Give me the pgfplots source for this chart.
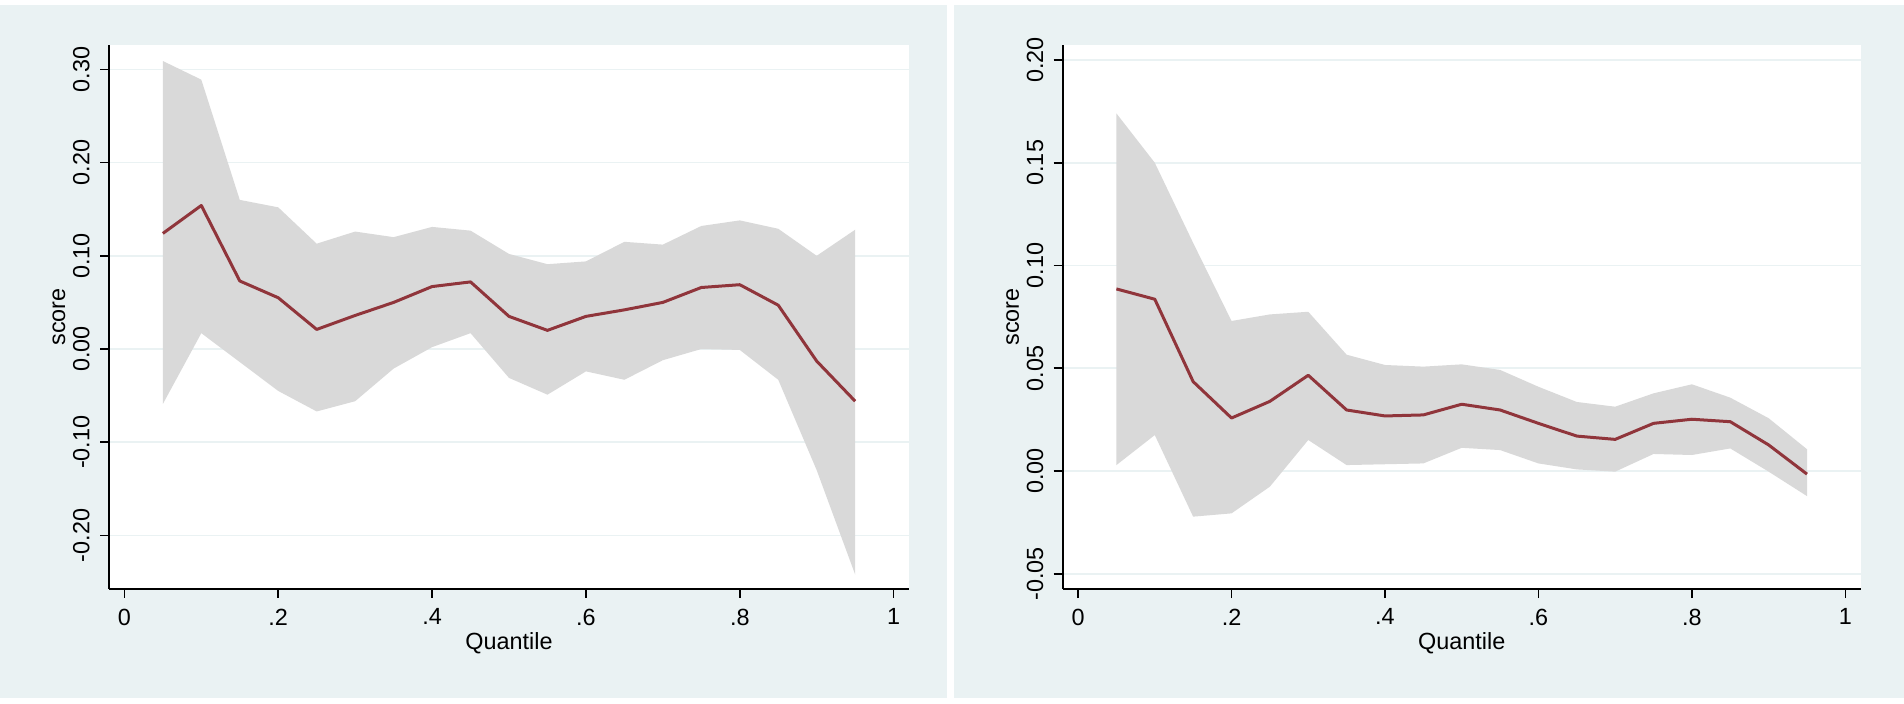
\documentclass[border=0pt]{standalone}
\usepackage{fontspec}
\setmainfont{Liberation Sans}
\usepackage{pgfplots}
\usepackage{pgfplotstable}
\pgfplotsset{compat=1.18}
\definecolor{bgcol}{RGB}{234,242,243}
\definecolor{gridcol}{RGB}{234,242,243}
\definecolor{bandcol}{RGB}{217,217,217}
\definecolor{linecol}{RGB}{144,53,59}

\pgfplotsset{
  layers/withbg/.define layer set={
    panelbg,axis background,axis grid,axis ticks,axis lines,axis tick labels,pre main,main,axis descriptions,axis foreground
  }{},
  set layers=withbg,
}

% point estimates
\pgfplotstableread{
q    est
0.05 0.124
0.10 0.154
0.15 0.073
0.20 0.055
0.25 0.021
0.30 0.036
0.35 0.050
0.40 0.067
0.45 0.072
0.50 0.035
0.55 0.020
0.60 0.035
0.65 0.042
0.70 0.050
0.75 0.066
0.80 0.069
0.85 0.047
0.90 -0.013
0.95 -0.056
}\leftest

% confidence band: upper bound forward, then lower bound backward
\pgfplotstableread{
q    b
0.05 0.309
0.10 0.289
0.15 0.160
0.20 0.152
0.25 0.113
0.30 0.126
0.35 0.120
0.40 0.131
0.45 0.127
0.50 0.102
0.55 0.091
0.60 0.094
0.65 0.115
0.70 0.112
0.75 0.132
0.80 0.138
0.85 0.129
0.90 0.100
0.95 0.128
0.95 -0.242
0.90 -0.130
0.85 -0.033
0.80 -0.001
0.75 0.000
0.70 -0.012
0.65 -0.033
0.60 -0.024
0.55 -0.049
0.50 -0.031
0.45 0.017
0.40 0.002
0.35 -0.021
0.30 -0.056
0.25 -0.067
0.20 -0.045
0.15 -0.014
0.10 0.017
0.05 -0.059
}\leftband

\pgfplotstableread{
q    est
0.05 0.0886
0.10 0.0836
0.15 0.0435
0.20 0.0258
0.25 0.0339
0.30 0.0466
0.35 0.0297
0.40 0.0268
0.45 0.0273
0.50 0.0325
0.55 0.0297
0.60 0.0232
0.65 0.0170
0.70 0.0154
0.75 0.0232
0.80 0.0252
0.85 0.0240
0.90 0.0127
0.95 -0.0015
}\rightest

\pgfplotstableread{
q    b
0.05 0.1740
0.10 0.1500
0.15 0.1110
0.20 0.0730
0.25 0.0762
0.30 0.0775
0.35 0.0566
0.40 0.0516
0.45 0.0508
0.50 0.0519
0.55 0.0492
0.60 0.0410
0.65 0.0336
0.70 0.0313
0.75 0.0378
0.80 0.0422
0.85 0.0357
0.90 0.0257
0.95 0.0106
0.95 -0.0122
0.90 -0.0003
0.85 0.0110
0.80 0.0078
0.75 0.0083
0.70 -0.0003
0.65 0.0008
0.60 0.0037
0.55 0.0102
0.50 0.0113
0.45 0.0037
0.40 0.0033
0.35 0.0029
0.30 0.0151
0.25 -0.0076
0.20 -0.0206
0.15 -0.0222
0.10 0.0175
0.05 0.0029
}\rightband

\pgfplotsset{
  statastyle/.style={
    scale only axis,
    width=400bp, height=272bp,
    axis background/.style={fill=white},
    axis lines=left,
    axis line style={-, black, line width=1bp},
    tick align=outside,
    major tick length=4.5bp,
    tick style={black, line width=0.8bp},
    ymajorgrids,
    major grid style={gridcol, line width=0.8bp},
    font=\fontsize{11.7bp}{14bp}\selectfont,
    xtick={0,0.2,0.4,0.6,0.8,1},
    xticklabels={0,.2,.4,.6,.8,1},
    xmin=-0.02, xmax=1.02,
    yticklabel style={rotate=90, anchor=south, inner xsep=0pt, inner ysep=4.95bp},
    xticklabel style={anchor=north, inner xsep=0pt, inner ysep=5.15bp},
    xlabel={Quantile},
    ylabel={score},
    xlabel style={at={(axis description cs:0.5,-0.1121)}, anchor=base},
    ylabel style={at={(axis description cs:-0.055,0.5)}, anchor=base, rotate=0},
  }
}

\begin{document}
\begin{tikzpicture}
\begin{pgfonlayer}{panelbg}
\fill[white] (0bp,0bp) rectangle (952bp,352bp);
\fill[bgcol] (0bp,3bp) rectangle (473.5bp,349.5bp);
\fill[bgcol] (477bp,3bp) rectangle (952bp,349.5bp);
\end{pgfonlayer}

\begin{axis}[statastyle,
  at={(54.5bp,57.5bp)}, anchor=south west,
  ymin=-0.2575, ymax=0.3262,
  ytick={-0.2,-0.1,0,0.1,0.2,0.3},
  yticklabels={-0.20,-0.10,0.00,0.10,0.20,0.30},
]
\addplot[fill=bandcol, draw=none, mark=none] table[x=q, y=b] {\leftband} -- cycle;
\addplot[linecol, line width=1.5bp, line join=round, mark=none] table[x=q, y=est] {\leftest};
\end{axis}

\begin{axis}[statastyle,
  at={(531.35bp,57.5bp)}, anchor=south west,
  width=399bp,
  ymin=-0.0574, ymax=0.2073,
  ytick={-0.05,0,0.05,0.1,0.15,0.2},
  yticklabels={-0.05,0.00,0.05,0.10,0.15,0.20},
]
\addplot[fill=bandcol, draw=none, mark=none] table[x=q, y=b] {\rightband} -- cycle;
\addplot[linecol, line width=1.5bp, line join=round, mark=none] table[x=q, y=est] {\rightest};
\end{axis}
\end{tikzpicture}
\end{document}
